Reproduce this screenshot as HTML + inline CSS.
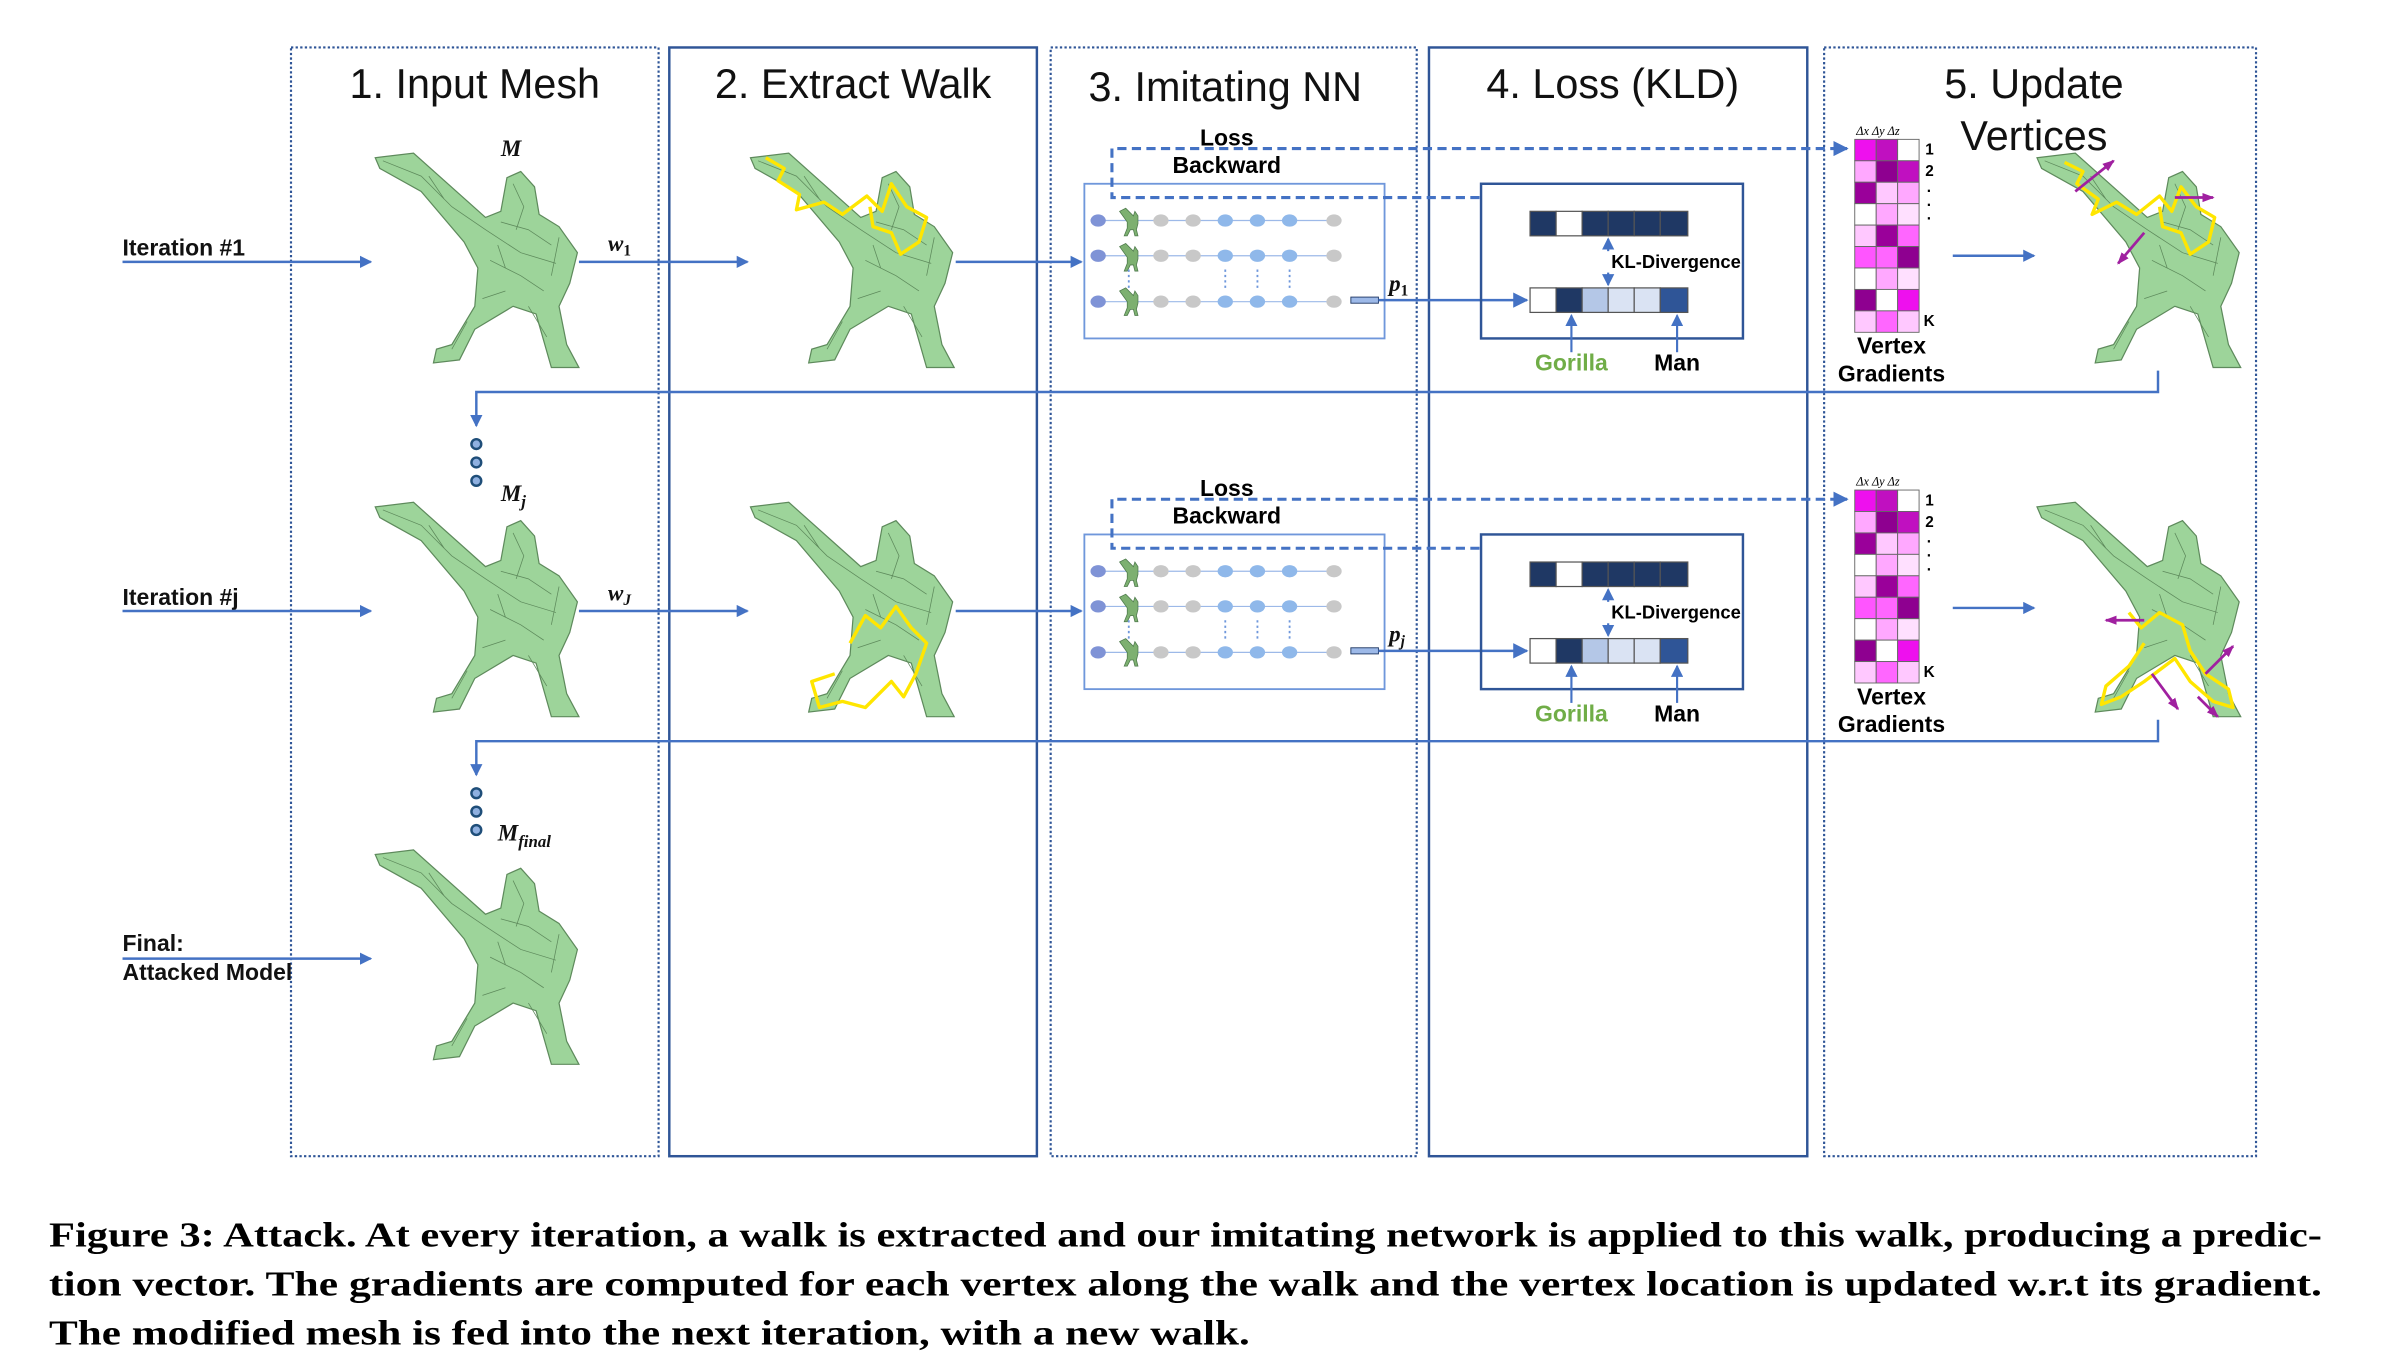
<!DOCTYPE html>
<html><head><meta charset="utf-8"><style>
html,body{margin:0;padding:0;background:#fff;width:2400px;height:1366px;overflow:hidden}
svg{display:block}
.t{font-family:"Liberation Sans",sans-serif}
.s{font-family:"Liberation Serif",serif}
</style></head><body>
<svg width="2400" height="1366" viewBox="0 0 1567 892" preserveAspectRatio="none" xmlns="http://www.w3.org/2000/svg">
<defs>
<marker id="a" markerWidth="8" markerHeight="8" refX="7" refY="4" orient="auto" markerUnits="userSpaceOnUse"><path d="M0,0 L8,4 L0,8 Z" fill="#4472C4"/></marker>
<marker id="a2" markerWidth="10" markerHeight="10" refX="9" refY="5" orient="auto" markerUnits="userSpaceOnUse"><path d="M0,0 L10,5 L0,10 Z" fill="#4472C4"/></marker>
<marker id="m" markerWidth="8" markerHeight="8" refX="7" refY="4" orient="auto" markerUnits="userSpaceOnUse"><path d="M0,1 L8,4 L0,7 Z" fill="#A020A0"/></marker>
<g id="g">
<path d="M0,3 L25,0 L72,42 L82,38 L86,16 L95,12 L104,22 L107,40 L120,48 L132,65 L127,85 L120,100 L125,125 L133,140 L115,140 L105,105 L90,100 L65,115 L55,135 L38,137 L40,128 L50,125 L65,100 L67,75 L58,58 L30,25 L3,10 Z" fill="#9DD49A" stroke="#5E8A5C" stroke-width="0.8"/>
<path d="M5,5 L30,15 L50,35 L72,50 L95,65 L118,72 M82,45 L100,50 L115,60 M35,15 L45,30 M90,20 L97,35 L92,50 M75,70 L95,80 L110,90 M70,95 L85,90 M100,100 L112,120 M60,110 L50,128 M120,55 L115,80 M80,60 L85,75" fill="none" stroke="#5E8A5C" stroke-width="0.5"/>
</g>
<g id="sg"><path d="M0,2 L4,0 L9,5 L10,2 L12,5 L12,10 L11,14 L12,18 L10,18 L9,14 L7,14 L5,18 L3,18 L5,13 L5,9 Z" fill="#7DB070" stroke="#4E7A4C" stroke-width="0.5"/></g>
</defs>

<g fill="none" stroke="#2F5597">
<rect x="190" y="31" width="240" height="724" stroke-dasharray="1.5,1.5" stroke-width="1.4"/>
<rect x="437" y="31" width="240" height="724" stroke-width="1.6"/>
<rect x="686" y="31" width="239" height="724" stroke-dasharray="1.5,1.5" stroke-width="1.4"/>
<rect x="933" y="31" width="247" height="724" stroke-width="1.6"/>
<rect x="1191" y="31" width="282" height="724" stroke-dasharray="1.5,1.5" stroke-width="1.4"/>
</g>
<g class="t" font-size="27" fill="#111" text-anchor="middle">
<text x="310" y="64">1. Input Mesh</text>
<text x="557" y="64">2. Extract Walk</text>
<text x="800" y="66">3. Imitating NN</text>
<text x="1053" y="64">4. Loss (KLD)</text>
<text x="1328" y="64">5. Update</text>
<text x="1328" y="98">Vertices</text>
</g>

<g class="t" font-size="15" font-weight="bold" fill="#111">
<text x="80" y="167">Iteration #1</text>
<text x="80" y="395">Iteration #j</text>
<text x="80" y="621">Final:</text>
<text x="80" y="640">Attacked Model</text>
</g>
<g stroke="#4472C4" stroke-width="1.6" fill="none" marker-end="url(#a)">
<line x1="80" y1="171" x2="242" y2="171"/>
<line x1="80" y1="399" x2="242" y2="399"/>
<line x1="80" y1="626" x2="242" y2="626"/>
<line x1="378" y1="171" x2="488" y2="171"/>
<line x1="378" y1="399" x2="488" y2="399"/>
<line x1="624" y1="171" x2="706" y2="171"/>
<line x1="624" y1="399" x2="706" y2="399"/>
<line x1="1275" y1="167" x2="1328" y2="167"/>
<line x1="1275" y1="397" x2="1328" y2="397"/>
<polyline points="1409,242 1409,256 311,256 311,278"/>
<polyline points="1409,470 1409,484 311,484 311,506"/>
</g>
<g fill="#8FB0E0" stroke="#1F4E79" stroke-width="1.6">
<circle cx="311" cy="290" r="3.2"/><circle cx="311" cy="302" r="3.2"/><circle cx="311" cy="314" r="3.2"/>
<circle cx="311" cy="518" r="3.2"/><circle cx="311" cy="530" r="3.2"/><circle cx="311" cy="542" r="3.2"/>
</g>
<g class="s" font-style="italic" font-weight="bold" fill="#111">
<text x="327" y="102" font-size="15">M</text>
<text x="327" y="327" font-size="15">M<tspan font-size="11" dy="4">j</tspan></text>
<text x="325" y="549" font-size="15">M<tspan font-size="11" dy="4">final</tspan></text>
<text x="397" y="164" font-size="15">w<tspan font-size="10" dy="3" font-style="normal">1</tspan></text>
<text x="397" y="392" font-size="15">w<tspan font-size="10" dy="3">J</tspan></text>
<text x="907" y="190" font-size="15">p<tspan font-size="10" dy="3" font-style="normal">1</tspan></text>
<text x="907" y="419" font-size="15">p<tspan font-size="10" dy="3">j</tspan></text>
</g>

<use href="#g" transform="translate(245,100)"/>
<use href="#g" transform="translate(245,328)"/>
<use href="#g" transform="translate(245,555)"/>
<use href="#g" transform="translate(490,100)"/>
<use href="#g" transform="translate(490,328)"/>
<use href="#g" transform="translate(1330,100)"/>
<use href="#g" transform="translate(1330,328)"/>
<g fill="none" stroke="#FFE600" stroke-width="2.2" stroke-linejoin="round">
<polyline points="500,103 512,110 508,118 522,127 520,137 538,132 550,140 566,128 576,138 582,120 592,135 605,142 600,158 588,166 582,152 570,148 568,135"/>
<polyline points="555,420 565,402 575,410 585,396 595,410 605,420 598,440 590,455 582,445 565,462 550,458 535,462 530,445 545,440"/>
<polyline points="1348,106 1360,112 1356,120 1370,130 1366,140 1382,132 1395,140 1410,128 1418,138 1424,122 1434,135 1446,142 1442,158 1430,166 1424,152 1412,148 1410,135"/>
<polyline points="1390,400 1398,410 1410,400 1425,408 1430,425 1440,440 1455,450 1458,462 1445,458 1430,445 1420,430 1400,445 1385,455 1372,460 1375,448 1390,435 1400,420"/>
</g>
<g stroke="#A020A0" stroke-width="1.8" marker-end="url(#m)">
<line x1="1355" y1="125" x2="1380" y2="105"/>
<line x1="1420" y1="129" x2="1445" y2="129"/>
<line x1="1400" y1="152" x2="1383" y2="172"/>
<line x1="1400" y1="405" x2="1375" y2="405"/>
<line x1="1440" y1="440" x2="1458" y2="422"/>
<line x1="1405" y1="440" x2="1422" y2="463"/>
<line x1="1435" y1="455" x2="1448" y2="468"/>
</g>

<g id="nn">
<rect x="708" y="120" width="196" height="101" fill="none" stroke="#6F97DB" stroke-width="1.2"/>
<g stroke="#9DB9E8" stroke-width="0.8"><line x1="717" y1="144" x2="871" y2="144"/><line x1="717" y1="167" x2="871" y2="167"/><line x1="717" y1="197" x2="871" y2="197"/></g>
<g>
<ellipse cx="717" cy="144" rx="5" ry="4" fill="#7F93D6"/><ellipse cx="717" cy="167" rx="5" ry="4" fill="#7F93D6"/><ellipse cx="717" cy="197" rx="5" ry="4" fill="#7F93D6"/>
<use href="#sg" transform="translate(731,136)"/><use href="#sg" transform="translate(731,159)"/><use href="#sg" transform="translate(731,188)"/>
<g fill="#C8C8C8"><ellipse cx="758" cy="144" rx="5" ry="4"/><ellipse cx="779" cy="144" rx="5" ry="4"/><ellipse cx="871" cy="144" rx="5" ry="4"/>
<ellipse cx="758" cy="167" rx="5" ry="4"/><ellipse cx="779" cy="167" rx="5" ry="4"/><ellipse cx="871" cy="167" rx="5" ry="4"/>
<ellipse cx="758" cy="197" rx="5" ry="4"/><ellipse cx="779" cy="197" rx="5" ry="4"/><ellipse cx="871" cy="197" rx="5" ry="4"/></g>
<g fill="#8FB8EA"><ellipse cx="800" cy="144" rx="5" ry="4"/><ellipse cx="821" cy="144" rx="5" ry="4"/><ellipse cx="842" cy="144" rx="5" ry="4"/>
<ellipse cx="800" cy="167" rx="5" ry="4"/><ellipse cx="821" cy="167" rx="5" ry="4"/><ellipse cx="842" cy="167" rx="5" ry="4"/>
<ellipse cx="800" cy="197" rx="5" ry="4"/><ellipse cx="821" cy="197" rx="5" ry="4"/><ellipse cx="842" cy="197" rx="5" ry="4"/></g>
<g stroke="#6F97DB" stroke-dasharray="1.5,2" stroke-width="1.2"><line x1="737" y1="176" x2="737" y2="188"/><line x1="800" y1="176" x2="800" y2="188"/><line x1="821" y1="176" x2="821" y2="188"/><line x1="842" y1="176" x2="842" y2="188"/></g>
<rect x="882" y="194" width="18" height="4" fill="#9DB9E8" stroke="#1F3864" stroke-width="0.6"/>
</g>
<line x1="900" y1="196" x2="997" y2="196" stroke="#4472C4" stroke-width="1.6" marker-end="url(#a2)"/>
<polyline points="966,129 726,129 726,97 1206,97" fill="none" stroke="#4472C4" stroke-width="2" stroke-dasharray="6,3.5" marker-end="url(#a2)"/>
<text class="t" x="801" y="95" font-size="15" font-weight="bold" text-anchor="middle">Loss</text>
<text class="t" x="801" y="113" font-size="15" font-weight="bold" text-anchor="middle">Backward</text>
<rect x="967" y="120" width="171" height="101" fill="none" stroke="#2F5597" stroke-width="1.6"/>
<g stroke="#555" stroke-width="0.8">
<rect x="999" y="138" width="17" height="16" fill="#1F3864"/><rect x="1016" y="138" width="17" height="16" fill="#fff"/><rect x="1033" y="138" width="17" height="16" fill="#1F3864"/><rect x="1050" y="138" width="17" height="16" fill="#1F3864"/><rect x="1067" y="138" width="17" height="16" fill="#1F3864"/><rect x="1084" y="138" width="18" height="16" fill="#1F3864"/>
<rect x="999" y="188" width="17" height="16" fill="#fff"/><rect x="1016" y="188" width="17" height="16" fill="#1F3864"/><rect x="1033" y="188" width="17" height="16" fill="#B4C7E7"/><rect x="1050" y="188" width="17" height="16" fill="#DAE3F3"/><rect x="1067" y="188" width="17" height="16" fill="#DAE3F3"/><rect x="1084" y="188" width="18" height="16" fill="#2F5597"/>
</g>
<g stroke="#4472C4" stroke-width="1.4" fill="none">
<line x1="1050" y1="164" x2="1050" y2="156" marker-end="url(#a)"/><line x1="1050" y1="178" x2="1050" y2="186" marker-end="url(#a)"/>
<line x1="1026" y1="230" x2="1026" y2="206" marker-end="url(#a)"/><line x1="1095" y1="230" x2="1095" y2="206" marker-end="url(#a)"/>
</g>
<text class="t" x="1052" y="175" font-size="12" font-weight="bold">KL-Divergence</text>
<text class="t" x="1026" y="242" font-size="15" font-weight="bold" fill="#70AD47" text-anchor="middle">Gorilla</text>
<text class="t" x="1095" y="242" font-size="15" font-weight="bold" text-anchor="middle">Man</text>
</g>
<g transform="translate(0,229)"><use href="#nn"/></g>

<g id="gm">
<g stroke="#666" stroke-width="0.6">
<rect x="1211" y="91" width="14" height="14" fill="#EE10EE"/><rect x="1225" y="91" width="14" height="14" fill="#C010C0"/><rect x="1239" y="91" width="14" height="14" fill="#fff"/>
<rect x="1211" y="105" width="14" height="14" fill="#FFA8FF"/><rect x="1225" y="105" width="14" height="14" fill="#8E0090"/><rect x="1239" y="105" width="14" height="14" fill="#C010C0"/>
<rect x="1211" y="119" width="14" height="14" fill="#9A009A"/><rect x="1225" y="119" width="14" height="14" fill="#FFC8FF"/><rect x="1239" y="119" width="14" height="14" fill="#FFA8FF"/>
<rect x="1211" y="133" width="14" height="14" fill="#fff"/><rect x="1225" y="133" width="14" height="14" fill="#FFA8FF"/><rect x="1239" y="133" width="14" height="14" fill="#FFE0FF"/>
<rect x="1211" y="147" width="14" height="14" fill="#FFC8FF"/><rect x="1225" y="147" width="14" height="14" fill="#9A009A"/><rect x="1239" y="147" width="14" height="14" fill="#FF66FF"/>
<rect x="1211" y="161" width="14" height="14" fill="#FF55FF"/><rect x="1225" y="161" width="14" height="14" fill="#FF66FF"/><rect x="1239" y="161" width="14" height="14" fill="#8E0090"/>
<rect x="1211" y="175" width="14" height="14" fill="#fff"/><rect x="1225" y="175" width="14" height="14" fill="#FFA8FF"/><rect x="1239" y="175" width="14" height="14" fill="#FFE0FF"/>
<rect x="1211" y="189" width="14" height="14" fill="#8E0090"/><rect x="1225" y="189" width="14" height="14" fill="#fff"/><rect x="1239" y="189" width="14" height="14" fill="#EE10EE"/>
<rect x="1211" y="203" width="14" height="14" fill="#FFC8FF"/><rect x="1225" y="203" width="14" height="14" fill="#FF66FF"/><rect x="1239" y="203" width="14" height="14" fill="#FFC8FF"/>
</g>
<text class="s" x="1212" y="88" font-size="8" font-style="italic">Δx Δy Δz</text>
<g class="t" font-size="10" font-weight="bold"><text x="1257" y="101">1</text><text x="1257" y="115">2</text><text x="1258" y="128">·</text><text x="1258" y="137">·</text><text x="1258" y="146">·</text><text x="1256" y="213">K</text></g>
<text class="t" x="1235" y="231" font-size="15" font-weight="bold" text-anchor="middle">Vertex</text>
<text class="t" x="1235" y="249" font-size="15" font-weight="bold" text-anchor="middle">Gradients</text>
</g>
<g transform="translate(0,229)"><use href="#gm"/></g>

<g class="s" font-size="23" font-weight="bold" fill="#000">
<text x="32" y="814" textLength="1484" lengthAdjust="spacingAndGlyphs">Figure 3: Attack. At every iteration, a walk is extracted and our imitating network is applied to this walk, producing a predic-</text>
<text x="32" y="846" textLength="1484" lengthAdjust="spacingAndGlyphs">tion vector. The gradients are computed for each vertex along the walk and the vertex location is updated w.r.t its gradient.</text>
<text x="32" y="878" textLength="784" lengthAdjust="spacingAndGlyphs">The modified mesh is fed into the next iteration, with a new walk.</text>
</g>
</svg>
</body></html>
